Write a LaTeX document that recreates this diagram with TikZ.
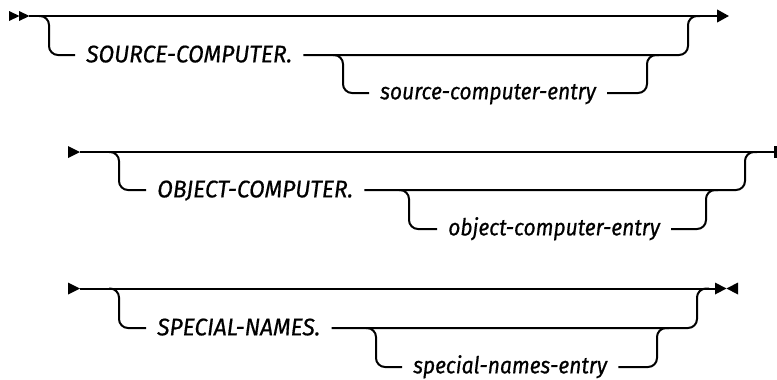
\documentclass[tikz,border=0pt]{standalone}
\usepackage{fontspec}
\setmainfont{Fira Sans}
\newfontfamily\kwFont[FakeStretch=0.95, FakeBold=0.6, ItalicFeatures={FakeBold=0.6, FakeStretch=0.95}]{Fira Sans}
\newfontfamily\varFont[FakeStretch=0.9, FakeBold=0.6, ItalicFeatures={FakeBold=0.6, FakeStretch=0.9}]{Fira Sans}
\usetikzlibrary{arrows.meta}
\tikzset{
  rail/.style={line width=1.5pt, rounded corners=6.75pt, line cap=butt},
  % --- textos dos ramos ---
  kwText/.style={font=\kwFont\itshape\fontsize{18}{21}\selectfont, inner xsep=8.25pt, inner ysep=0pt,
    text height=11pt, text depth=0pt, anchor=west},
  varText/.style={kwText, font=\varFont\itshape\fontsize{17.5}{20}\selectfont, text height=9.5pt},
  tipFill/.style={fill=black}
}

\begin{document}
\begin{tikzpicture}[x=0.75pt, y=-0.75pt]
  \useasboundingbox (0,0) rectangle (777,379);

  %% --- LINHA 1: SOURCE-COMPUTER ---
  \coordinate (r1s) at (29,16);
  \coordinate (r1e) at (729,16);
  \foreach \x in {9,19} {
    \fill[tipFill] (\x,11) -- ++(10.5,5) -- ++(-10.5,5) -- cycle;
  }
  \draw[line width=1.5pt, -{Triangle[length=9pt, width=9.5pt]}] (r1s) -- (r1e);

  \node[kwText] (srcKw) at (75,55) {SOURCE-COMPUTER.};
  \node[varText] (srcVar) at (369,93) {source-computer-entry};

  \draw[rail] (39,16) -- (49,16) -- (49,55) -- (srcKw.west);
  \draw[rail] (srcKw.east) -- (688,55) -- (688,16) -- (700,16);
  \draw[rail] (333,55) -- (343,55) -- (343,93) -- (srcVar.west);
  \draw[rail] (srcVar.east) -- (647,93) -- (647,55) -- (659,55);

  %% --- LINHA 2: OBJECT-COMPUTER ---
  \coordinate (r2s) at (80,152);
  \coordinate (r2e) at (777,152);
  \fill[tipFill] (68,146) -- (r2s) -- (68,158) -- cycle;
  \draw[line width=1.5pt] (r2s) -- (r2e);
  \draw[line width=2.5pt] (775.5,146) -- (775.5,158);

  \node[kwText] (objKw) at (146,190) {OBJECT-COMPUTER.};
  \node[varText] (objVar) at (437,229) {object-computer-entry};

  \draw[rail] (109,152) -- (119,152) -- (119,190) -- (objKw.west);
  \draw[rail] (objKw.east) -- (745,190) -- (745,152) -- (757,152);
  \draw[rail] (399,190) -- (409,190) -- (409,229) -- (objVar.west);
  \draw[rail] (objVar.east) -- (706,229) -- (706,190) -- (718,190);

  %% --- LINHA 3: SPECIAL-NAMES ---
  \coordinate (r3s) at (80,288.5);
  \coordinate (r3e) at (715,288.5);
  \fill[tipFill] (68,282.5) -- (r3s) -- (68,294.5) -- cycle;
  \draw[line width=1.5pt] (r3s) -- (r3e);
  % Fim do diagrama
  \fill[tipFill] (715,282.5) -- (726.5,288.5) -- (715,294.5) -- cycle;
  \fill[tipFill] (738,282.5) -- (726.5,288.5) -- (738,294.5) -- cycle;

  \node[kwText] (spnKw) at (146,328) {SPECIAL-NAMES.};
  \node[varText] (spnVar) at (402,367) {special-names-entry};

  \draw[rail] (109,288.5) -- (119,288.5) -- (119,328) -- (spnKw.west);
  \draw[rail] (spnKw.east) -- (697,328) -- (697,288.5) -- (709,288.5);
  \draw[rail] (366,328) -- (376,328) -- (376,367) -- (spnVar.west);
  \draw[rail] (spnVar.east) -- (657,367) -- (657,328) -- (669,328);
\end{tikzpicture}
\end{document}
